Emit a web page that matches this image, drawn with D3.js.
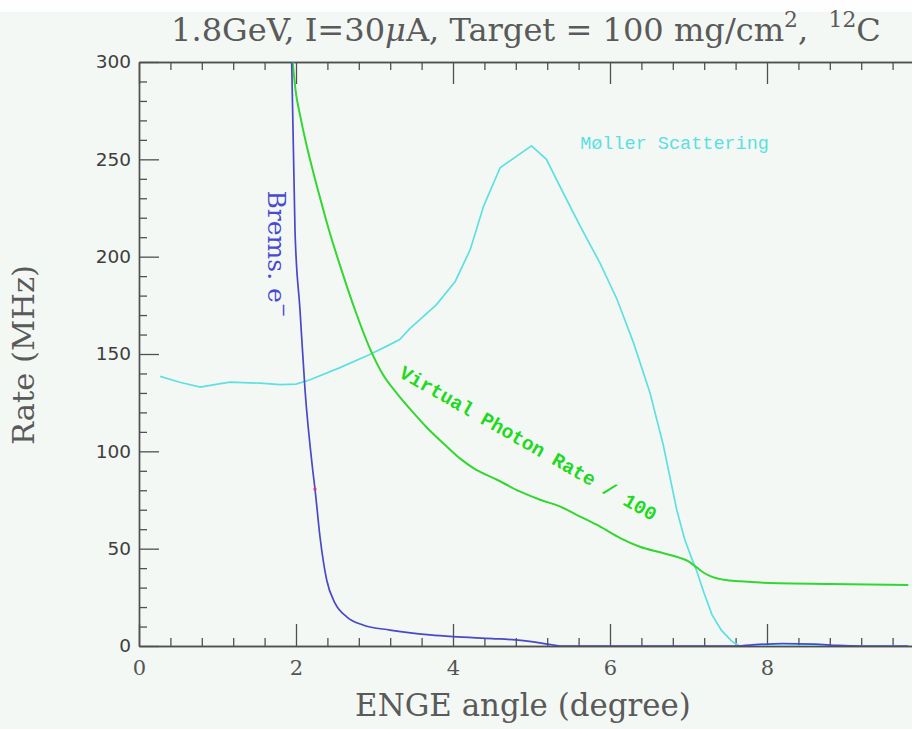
<!DOCTYPE html>
<html>
<head>
<meta charset="utf-8">
<script src="https://cdn.jsdelivr.net/npm/d3@7/dist/d3.min.js"></script>
<style>
  html,body{margin:0;padding:0;background:#f4f8f4;}
  svg{display:block;}
  text{white-space:pre;}
</style>
</head>
<body>
<svg id="chart" width="912" height="729"></svg>
<script>
// ---------- data ----------
const xMajorTicks = [0, 2, 4, 6, 8];
const yMajorTicks = [0, 50, 100, 150, 200, 250, 300];

// Bremsstrahlung electrons
const bremsAngle = [1.945,1.987,2.051,2.115,2.213,2.242,2.306,2.391,2.497,2.646,2.854,3.197,3.707,4.0,4.5,4.8,5.0,5.2,5.4,7.6,7.9,8.2,8.6,8.9,9.2,9.8];
const bremsRate  = [300,213.7,172.6,131.5,90.4,80.6,56,33.9,22,15,10.8,8.2,5.7,4.8,3.8,3.1,2.2,1.0,0,0,0.8,1.2,1.0,0.3,0,0];

// Virtual photon rate / 100
const photonAngle = [1.958,1.994,2.057,2.140,2.223,2.325,2.420,2.580,2.752,2.949,3.096,3.30,3.48,3.66,3.92,4.10,4.26,4.56,4.85,5.11,5.36,5.62,5.87,6.13,6.38,6.65,6.89,7.0,7.1,7.2,7.3,7.45,7.66,8.15,8.8,9.8];
const photonRate  = [300,285.6,271.7,256.3,242.9,227.5,213.7,193.1,172.6,152.1,140.2,129,120.5,112.5,102.5,96,91.4,85.4,79.4,75.1,71.7,66.5,61.4,55.4,51,48,45.3,43.5,40.5,37.5,35.5,34,33.2,32.2,31.9,31.3];

// Moller scattering
const mollerAngle = [0.27,0.52,0.78,1.0,1.16,1.54,1.8,2.0,2.18,2.56,2.94,3.17,3.32,3.45,3.79,4.03,4.22,4.39,4.6,5.0,5.19,5.36,5.62,5.87,6.09,6.3,6.51,6.68,6.85,6.95,7.05,7.1,7.2,7.3,7.42,7.55,7.65,9.8];
const mollerRate  = [138.5,135.5,133,134.5,135.5,135,134.3,134.5,136.8,143,149.7,154.3,157.4,163,175.4,187.4,203.7,226,245.7,256.9,250,236.3,215.7,196.9,178,155.7,130,103,70,55,44,39,27,16,8,2.5,0,0];

// small marker seen on the Brems curve
const bremsMark = [[2.242, 80.6]];

// ---------- layout ----------
const svg = d3.select("#chart");
const W = 912, H = 729;
const pL = 139, pT = 62, pB = 646, pR = 924;

const x = d3.scaleLinear().domain([0, 10]).range([pL, pR]);
const y = d3.scaleLinear().domain([0, 300]).range([pB, pT]);

const ink = "#505050";
const textCol = "#555";

svg.append("rect").attr("width", W).attr("height", H).attr("fill", "#f4f8f4");
svg.append("rect").attr("width", W).attr("height", 12).attr("fill", "#fdfefd");

// clip
svg.append("defs").append("clipPath").attr("id", "plotclip")
  .append("rect").attr("x", pL).attr("y", pT).attr("width", pR - pL).attr("height", pB - pT);

// ---------- axes ----------
function styleAxis(g) {
  g.selectAll("path.domain").attr("stroke", ink).attr("stroke-width", 1.4);
  g.selectAll(".tick line").attr("stroke", ink).attr("stroke-width", 1.3);
}
const minorX = d3.range(0, 10.01, 0.4).map(v => +v.toFixed(2)).filter(v => !xMajorTicks.includes(v));
const minorY = d3.range(0, 301, 10).filter(v => !yMajorTicks.includes(v));

// bottom
const gxb = svg.append("g").attr("transform", `translate(0,${pB})`)
  .call(d3.axisBottom(x).tickValues(xMajorTicks).tickSize(-22).tickSizeOuter(0).tickPadding(14).tickFormat(d3.format("d")));
gxb.call(styleAxis);
gxb.selectAll("text").attr("fill", textCol).attr("font-family", "DejaVu Serif").attr("font-size", 21);
svg.append("g").attr("transform", `translate(0,${pB})`)
  .call(d3.axisBottom(x).tickValues(minorX).tickSize(-8).tickSizeOuter(0).tickFormat(""))
  .call(styleAxis);

// top
svg.append("g").attr("transform", `translate(0,${pT})`)
  .call(d3.axisTop(x).tickValues(xMajorTicks).tickSize(-22).tickSizeOuter(0).tickFormat(""))
  .call(styleAxis);
svg.append("g").attr("transform", `translate(0,${pT})`)
  .call(d3.axisTop(x).tickValues(minorX).tickSize(-8).tickSizeOuter(0).tickFormat(""))
  .call(styleAxis);

// left
const gyl = svg.append("g").attr("transform", `translate(${pL},0)`)
  .call(d3.axisLeft(y).tickValues(yMajorTicks).tickSize(-20).tickSizeOuter(0).tickPadding(8).tickFormat(d3.format("d")));
gyl.call(styleAxis);
gyl.selectAll("text").attr("fill", "#3e3e3e").attr("font-family", "DejaVu Sans").attr("font-size", 18.5);
svg.append("g").attr("transform", `translate(${pL},0)`)
  .call(d3.axisLeft(y).tickValues(minorY).tickSize(-8).tickSizeOuter(0).tickFormat(""))
  .call(styleAxis);

// ---------- curves ----------
const plot = svg.append("g").attr("clip-path", "url(#plotclip)");
const zip = (a, b) => a.map((v, i) => [v, b[i]]);

const smooth = d3.line().x(d => x(d[0])).y(d => y(d[1])).curve(d3.curveMonotoneX);
const straight = d3.line().x(d => x(d[0])).y(d => y(d[1]));

plot.append("path").datum(zip(mollerAngle, mollerRate))
  .attr("d", straight).attr("fill", "none").attr("stroke", "#5fe0e0").attr("stroke-width", 1.7);
plot.append("path").datum(zip(photonAngle, photonRate))
  .attr("d", smooth).attr("fill", "none").attr("stroke", "#33d633").attr("stroke-width", 2);
plot.append("path").datum(zip(bremsAngle, bremsRate))
  .attr("d", smooth).attr("fill", "none").attr("stroke", "#4848c8").attr("stroke-width", 1.7);
plot.selectAll("circle.mark").data(bremsMark).join("circle")
  .attr("cx", d => x(d[0])).attr("cy", d => y(d[1])).attr("r", 1.6).attr("fill", "#e0306a");

// ---------- text ----------
function fit(sel, target) {
  const w = sel.node().getComputedTextLength();
  const fs = parseFloat(sel.attr("font-size"));
  sel.attr("font-size", fs * target / w);
}

// title
const title = svg.append("text").attr("x", 526).attr("y", 41).attr("text-anchor", "middle")
  .attr("font-family", "DejaVu Serif").attr("font-size", 26).attr("fill", "#5a5a5a");
title.append("tspan").text("1.8GeV, I=30");
title.append("tspan").attr("font-style", "italic").text("\u03bc");
title.append("tspan").text("A, Target = 100 mg/cm");
title.append("tspan").attr("font-size", "0.68em").attr("dy", "-0.62em").text("2");
title.append("tspan").attr("dy", "0.42em").text(",  ");
title.append("tspan").attr("font-size", "0.68em").attr("dy", "-0.62em").text("12");
title.append("tspan").attr("dy", "0.42em").text("C");
fit(title, 710);

// axis labels
const xl = svg.append("text").attr("x", 523).attr("y", 716).attr("text-anchor", "middle")
  .attr("font-family", "DejaVu Serif").attr("font-size", 28).attr("fill", "#5a5a5a")
  .text("ENGE angle (degree)");
fit(xl, 336);

const yl = svg.append("text").attr("transform", "translate(34,355) rotate(-90)").attr("text-anchor", "middle")
  .attr("font-family", "DejaVu Serif").attr("font-size", 28).attr("fill", "#5a5a5a")
  .text("Rate (MHz)");
fit(yl, 180);

// curve annotations
const brems = svg.append("text")
  .attr("transform", `translate(${x(1.64)},${y(234)}) rotate(90)`)
  .attr("font-family", "DejaVu Serif").attr("font-size", 25).attr("fill", "#4a4ad0");
brems.append("tspan").text("Brems. e");
brems.append("tspan").attr("font-size", "0.7em").attr("dy", "-0.6em").text("\u2212");

svg.append("text")
  .attr("transform", `translate(${x(3.30)},${y(138.5)}) rotate(29.7)`)
  .attr("font-family", "Liberation Mono").attr("font-weight", "bold").attr("font-size", 19.5)
  .attr("fill", "#22d822").text("Virtual Photon Rate / 100");

svg.append("text")
  .attr("x", x(5.62)).attr("y", y(255.3))
  .attr("font-family", "Liberation Mono").attr("font-size", 18.5)
  .attr("fill", "#5ae0e0").text("M\u00f8ller Scattering");
</script>
</body>
</html>
